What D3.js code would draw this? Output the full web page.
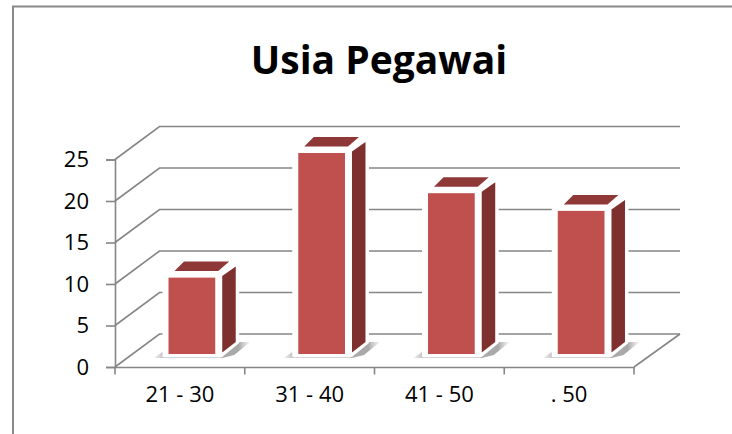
<!DOCTYPE html>
<html>
<head>
<meta charset="utf-8">
<script src="https://cdn.jsdelivr.net/npm/d3@7"></script>
<style>
  html, body { margin: 0; padding: 0; background: #fff; }
  svg { display: block; }
  text { font-family: "Open Sans", sans-serif; fill: #000; }
</style>
</head>
<body>
<svg id="chart" width="732" height="434"></svg>
<script>
// values
const categories = ["21 - 30", "31 - 40", "41 - 50", ". 50"];
const values = [9.5, 25, 20, 17.8];
const yTicks = [0, 5, 10, 15, 20, 25];
const title = "Usia Pegawai";

const svg = d3.select("#chart");
const gridColor = "#868686";

// 1. Scales. The bars stand a bit behind the axis plane, so they get their own y scale
const x = d3.scaleBand().domain(categories).range([115, 634]);
const y = d3.scaleLinear().domain([0, 25]).range([367, 159.5]);
const yBar = d3.scaleLinear().domain([0, 25]).range([354, 153]);

// depth of the fake 3d box
const depthX = 44.5;
const depthY = 33;
const barW = x.bandwidth() * 0.36;
const barShift = 12;

// 2. Outer frame, only top and left show
svg.append("path")
    .attr("d", d3.line()([[13, 434], [13, 6.5], [732, 6.5]]))
    .attr("fill", "none")
    .attr("stroke", "#8a8a8a")
    .attr("stroke-width", 2);

// 3. Title
svg.append("text")
    .attr("x", 379)
    .attr("y", 74)
    .attr("text-anchor", "middle")
    .style("font-size", "39px")
    .style("font-weight", "700")
    .text(title);

// 4. Walls and floor
const grid = svg.append("g")
    .attr("fill", "none")
    .attr("stroke", gridColor)
    .attr("stroke-width", 1.6);

grid.selectAll("path.wall")
    .data(yTicks)
    .join("path")
    .attr("class", "wall")
    .attr("d", d => d3.line()([
        [x.range()[0], y(d)],
        [x.range()[0] + depthX, y(d) - depthY],
        [x.range()[1] + depthX + 1.5, y(d) - depthY]
    ]));

grid.append("path")
    .attr("d", d3.line()([
        [x.range()[1] + depthX + 1.5, y(0) - depthY],
        [x.range()[1], y(0)]
    ]));

// 5. Floor shadow under each bar
const defs = svg.append("defs");
const fade = defs.append("linearGradient")
    .attr("id", "floor-shadow")
    .attr("x1", 0).attr("x2", 1).attr("y1", 0).attr("y2", 0);
fade.append("stop").attr("offset", "0%").attr("stop-color", "#bdbdbd").attr("stop-opacity", 0.15);
fade.append("stop").attr("offset", "12%").attr("stop-color", "#b5b5b5");
fade.append("stop").attr("offset", "88%").attr("stop-color", "#a8a8a8");
fade.append("stop").attr("offset", "100%").attr("stop-color", "#c8c8c8").attr("stop-opacity", 0.2);

// 6. Bars
const bars = svg.append("g")
    .selectAll("g")
    .data(values)
    .join("g")
    .each(function (d, i) {
        const g = d3.select(this);
        const x0 = x(categories[i]) + (x.bandwidth() - barW) / 2 + barShift;
        const x1 = x0 + barW;
        const top = yBar(d);
        const base = yBar(0);
        const poly = pts => pts.map(p => p.join(",")).join(" ");

        g.append("polygon")
            .attr("points", poly([[x0 - 15, base + 4], [x0 - 6, base - 2], [x1 + 22, base - 12], [x1 + 35, base - 12], [x1 + 19, base + 1], [x1 + 7, base + 4]]))
            .attr("fill", "url(#floor-shadow)");

        // white halo, it also cuts the grid lines behind the bar
        g.append("polygon")
            .attr("points", poly([[x0 - 6, base + 3], [x0 - 6, top - 5], [x0 + 15, top - 19], [x1 + 16, top - 19], [x1 + 24, top - 13], [x1 + 24, base - 11], [x1 + 7, base + 3]]))
            .attr("fill", "#fff");

        g.append("line")
            .attr("x1", x0 - 5).attr("x2", x1 + 6)
            .attr("y1", base + 3.5).attr("y2", base + 3.5)
            .attr("stroke", "#d4d4d4")
            .attr("stroke-width", 1.2);

        // top face
        g.append("polygon")
            .attr("points", poly([[x0 + 6, top - 6.5], [x0 + 15.5, top - 16], [x1 + 14, top - 16], [x1 + 3, top - 6.5]]))
            .attr("fill", "#8e3937");

        // side face
        g.append("polygon")
            .attr("points", poly([[x1 + 7, top - 1.5], [x1 + 20.5, top - 11], [x1 + 20.5, base - 12], [x1 + 7, base - 1.5]]))
            .attr("fill", "#7e302f");

        // front face
        g.append("rect")
            .attr("x", x0)
            .attr("y", top)
            .attr("width", barW)
            .attr("height", base - top)
            .attr("fill", "#c0504d");
    });

// 7. Axes
const yAxis = svg.append("g")
    .attr("transform", `translate(${x.range()[0]},0)`)
    .call(d3.axisLeft(y).tickValues(yTicks).tickSize(9).tickPadding(17));

const xAxis = svg.append("g")
    .attr("transform", `translate(0,${y(0)})`)
    .call(d3.axisBottom(x).tickSize(0).tickPadding(19));

[yAxis, xAxis].forEach(a => {
    a.select(".domain").attr("stroke", gridColor).attr("stroke-width", 1.6);
    a.selectAll("line").attr("stroke", gridColor).attr("stroke-width", 1.6);
    a.selectAll("text")
        .attr("font-family", null)
        .attr("fill", "#000")
        .style("font-size", "22px");
});

// tick marks sit on the band edges, the axis itself would center them
xAxis.selectAll("line.edge")
    .data(categories.map(c => x(c)).concat(x.range()[1]))
    .join("line")
    .attr("class", "edge")
    .attr("x1", d => d).attr("x2", d => d)
    .attr("y1", 0).attr("y2", 7.5)
    .attr("stroke", gridColor)
    .attr("stroke-width", 1.6);
</script>
</body>
</html>
